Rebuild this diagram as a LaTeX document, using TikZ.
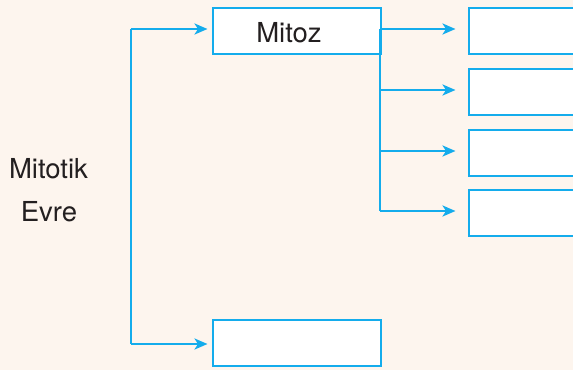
\documentclass[tikz,border=0pt]{standalone}
\usepackage{fontspec}
\setmainfont{TeX Gyre Heros}
\usetikzlibrary{arrows.meta}
\definecolor{paper}{RGB}{253,245,238}
\definecolor{cyanline}{RGB}{20,172,236}
\definecolor{ink}{RGB}{35,31,32}
\begin{document}
\begin{tikzpicture}[x=1pt,y=-1pt,
  box/.style={draw=cyanline, line width=2.1pt, fill=white, inner sep=0pt,
    minimum width=168pt, minimum height=46pt, anchor=north west},
  link/.style={draw=cyanline, line width=2.4pt},
  tip/.style={-{Stealth[length=13pt,width=11pt,inset=3.5pt]}},
  label/.style={text=ink, font=\fontsize{27.5}{32}\selectfont, inner sep=0pt}]
  % background and page frame
  \fill[paper] (0,0) rectangle (573,370);
  \useasboundingbox (0,0) rectangle (573,370);

  % main boxes
  \node[box] (mitoz) at (211.5,6.5) {};
  \node[label, anchor=base] at (289,42) {Mitoz};
  \node[box] (lower) at (211.5,318.5) {};

  % boxes on the right, running off the page edge
  \node[box] (r1) at (467.5,6.5) {};
  \node[box] (r2) at (467.5,67.5) {};
  \node[box] (r3) at (467.5,128.5) {};
  \node[box] (r4) at (467.5,188.5) {};

  % side label
  \node[label, anchor=base] (t1) at (48.5,178) {Mitotik};
  \node[label, anchor=base] (t2) at (49,221) {Evre};

  % left branching connector
  \coordinate (ltop) at (131,29);
  \coordinate (lbot) at (131,344);
  \draw[link] (ltop) -- (lbot);
  \draw[link, tip] (ltop) -- ([xshift=-4pt]mitoz.west |- ltop);
  \draw[link, tip] (lbot) -- ([xshift=-4pt]lower.west |- lbot);

  % right branching connector
  \coordinate (rtop) at (380,29);
  \coordinate (rbot) at (380,211);
  \draw[link] (rtop) -- (rbot);
  \foreach \n/\y in {r1/29, r2/90, r3/151, r4/211}
    \draw[link, tip] (380,\y) -- ([xshift=-12pt]\n.west |- 0,\y);
\end{tikzpicture}
\end{document}
